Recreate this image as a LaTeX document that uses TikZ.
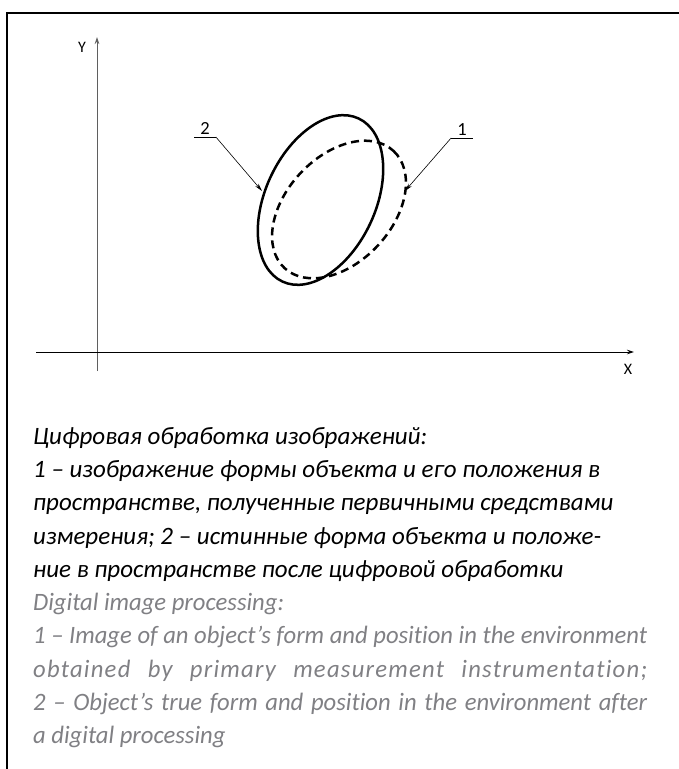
\documentclass[tikz,border=0pt]{standalone}
\usepackage{fontspec}
\setmainfont{Carlito}
\usetikzlibrary{calc,positioning,arrows.meta}
\definecolor{capgrey}{RGB}{128,128,132}
\definecolor{axgrey}{RGB}{95,95,95}
\tikzset{
  frameline/.style={draw=black,line width=1.3pt},
  axisline/.style={line width=0.8pt,-{Stealth[length=7pt,width=4.5pt]}},
  contour/.style={draw=black,line width=2.5pt},
  leader/.style={draw=black,line width=0.6pt,-{Stealth[length=8pt,width=4pt]}},
  axislabel/.style={font=\fontsize{16}{16}\selectfont,inner sep=0pt},
  numlabel/.style={font=\fontsize{18.5}{18.5}\selectfont,inner xsep=6pt,inner ysep=2pt},
  captext/.style={font=\fontsize{25}{33.3}\selectfont\itshape,inner sep=0pt,anchor=north west},
}
\newcommand{\entext}{\color{capgrey}\addfontfeatures{FakeStretch=0.985,Ligatures=NoCommon}}
\newcommand{\enwide}{\addfontfeatures{FakeStretch=0.985,LetterSpace=5,Ligatures=NoCommon}}
\begin{document}
\begin{tikzpicture}[x=1pt,y=-1pt]
        \useasboundingbox (0,0) rectangle (679,769);
        % frame
        \draw[frameline] (7,769) -- (7,13) -- (679,13);
        % axes
        \coordinate (yfoot) at (97,371);
        \coordinate (ytip) at (97,37);
        \coordinate (xfoot) at (36,352);
        \coordinate (xtip) at (634,352);
        \draw[axisline,draw=axgrey] (yfoot) -- (ytip);
        \draw[axisline] (xfoot) -- (xtip);
        \node[axislabel] (ylab) at (82,47) {Y};
        \node[axislabel] (xlab) at (628,369) {X};
        % contours
        \coordinate (solidc) at (320.5,200);
        \coordinate (dashc) at (339,209.5);
        \draw[contour,rotate around={65:(solidc)}] (solidc) ellipse (90 and 55);
        \draw[contour,dash pattern=on 8pt off 5pt,rotate around={47:(dashc)}] (dashc) ellipse (80 and 53);
        % leaders
        \node[numlabel,anchor=south] (lbltwo) at (205,137) {2};
        \node[numlabel,anchor=south] (lblone) at (462,138) {1};
        \coordinate (tiptwo) at (262,191);
        \coordinate (tipone) at (405,191);
        \draw[line width=0.6pt] (lbltwo.south west) -- (lbltwo.south east);
        \draw[leader] (lbltwo.south east) -- (tiptwo);
        \draw[line width=0.6pt] (lblone.south east) -- (lblone.south west);
        \draw[leader] (lblone.south west) -- (tipone);
        % caption
        \node[captext,text width=614pt,align=justify] (caption) at (33,427) {Цифровая обработка изображений:\\
          1 – изображение формы объекта и его положения в\\
          пространстве, полученные первичными средствами\\
          измерения; 2 – истинные форма объекта и положе-\\
          ние в пространстве после цифровой обработки\\
          \entext Digital image processing:\\
          1 – Image of an object’s form and position in the environment\linebreak
          {\enwide obtained by primary measurement instrumentation;}\linebreak
          2 – Object’s true form and position in the environment after\linebreak
          a digital processing};
      \end{tikzpicture}
\end{document}
